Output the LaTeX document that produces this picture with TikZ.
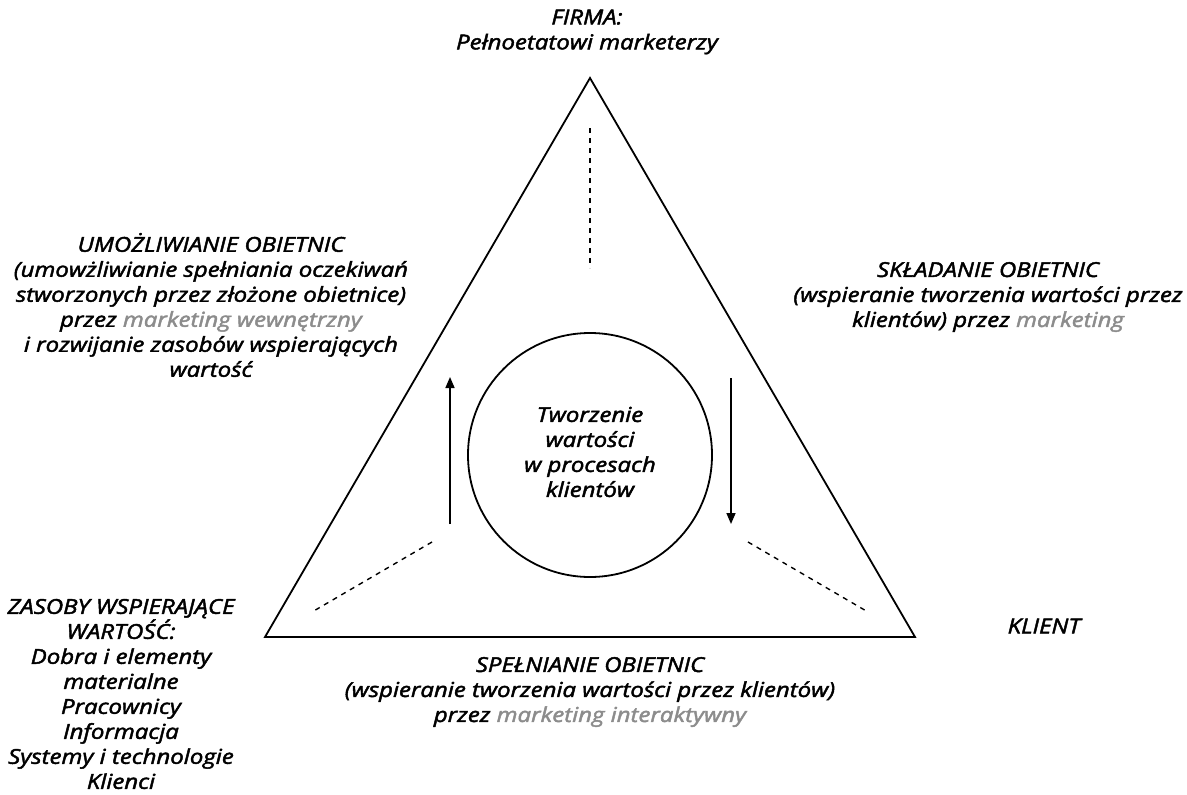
\documentclass[tikz,border=0pt]{standalone}
\usepackage{fontspec}
\setmainfont{Open Sans}
\newfontfamily\lblfont[FakeStretch=1.17,FakeBold=2.2]{Open Sans}
\usetikzlibrary{arrows.meta}
\definecolor{mgray}{RGB}{140,140,140}
\begin{document}
\begin{tikzpicture}[x=1pt,y=-1pt,
  lbl/.style={align=center,font=\lblfont\fontsize{20.5}{25}\selectfont\itshape,inner sep=0pt},
  ln/.style={line width=1.8pt},
  dsh/.style={line width=1.4pt,dash pattern=on 5pt off 5pt},
  arr/.style={line width=1.6pt,-{Triangle[length=11pt,width=9pt]}}]
\useasboundingbox (0,0) rectangle (1187,795);
\coordinate (T) at (590,78);
\coordinate (BL) at (265,637);
\coordinate (BR) at (915,637);
\draw[ln,line join=miter] (T) -- (BL) -- (BR) -- cycle;
\node[draw,circle,line width=1.8pt,minimum size=244pt,inner sep=0pt] (c) at (590,455) {};
\node[lbl] (ct) at (590,452) {Tworzenie\\wartości\\w procesach\\klientów};
\coordinate (a1s) at (450,524); \coordinate (a1e) at (450,377);
\coordinate (a2s) at (731,378); \coordinate (a2e) at (731,524);
\draw[arr] (a1s) -- (a1e);
\draw[arr] (a2s) -- (a2e);
\coordinate (d1s) at (590,128); \coordinate (d1e) at (590,268);
\coordinate (d2s) at (432,542); \coordinate (d2e) at (312,612);
\coordinate (d3s) at (748,542); \coordinate (d3e) at (868,612);
\draw[dsh] (d1s) -- (d1e);
\draw[dsh] (d2s) -- (d2e);
\draw[dsh] (d3s) -- (d3e);
\node[lbl] (firma) at (587,32) {FIRMA:\\Pełnoetatowi marketerzy};
\node[lbl] (umoz) at (211,305) {UMOŻLIWIANIE OBIETNIC\\(umowżliwianie spełniania oczekiwań\\stworzonych przez złożone obietnice)\\przez \textcolor{mgray}{marketing wewnętrzny}\\i rozwijanie zasobów wspierających\\wartość};
\node[lbl] (skl) at (988,297) {SKŁADANIE OBIETNIC\\(wspieranie tworzenia wartości przez\\klientów) przez \textcolor{mgray}{marketing}};
\node[lbl] (spel) at (590,692) {SPEŁNIANIE OBIETNIC\\(wspieranie tworzenia wartości przez klientów)\\przez \textcolor{mgray}{marketing interaktywny}};
\node[lbl] (zas) at (121,694) {ZASOBY WSPIERAJĄCE\\WARTOŚĆ:\\Dobra i elementy\\materialne\\Pracownicy\\Informacja\\Systemy i technologie\\Klienci};
\node[lbl] (kl) at (1044,626) {KLIENT};
\end{tikzpicture}
\end{document}
